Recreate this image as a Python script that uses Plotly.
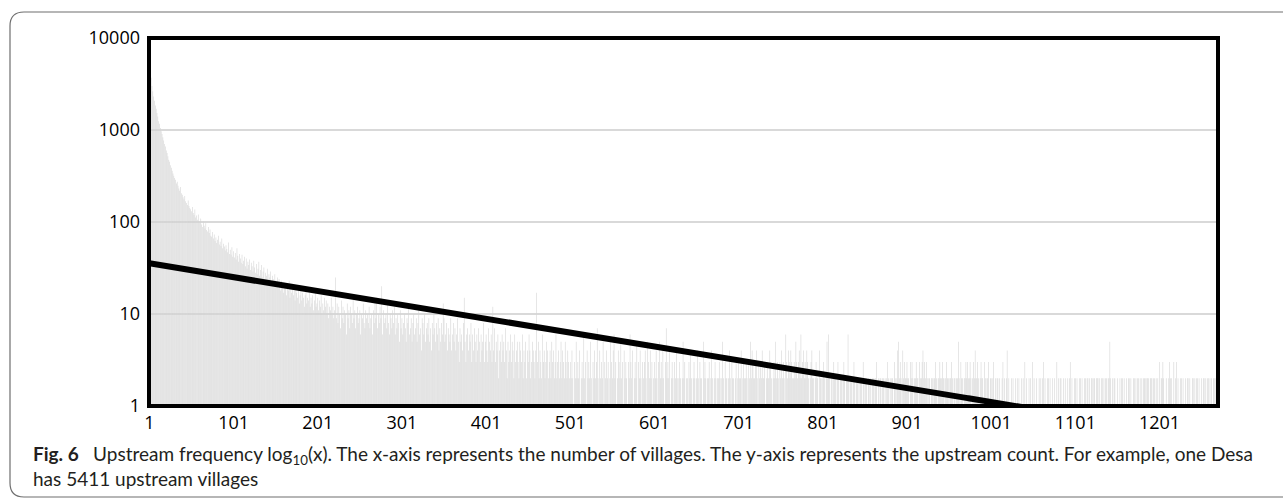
import numpy as np
import plotly.graph_objects as go

# Upstream counts per village rank, read left to right (category 1 .. 1270)
counts_head = [
    5411, 4380, 3705, 3012, 2644, 2318, 2075, 1843, 1702, 1530,
    1398, 1241, 1167, 1052, 968, 903, 832, 771, 705, 662,
    598, 561, 517, 476, 452, 413, 388, 361, 337, 318,
    301, 287, 262, 274, 248, 231, 219, 240, 205, 198,
    186, 177, 192, 168, 161, 153, 171, 149, 142, 138,
    131, 146, 125, 119, 137, 112, 118, 106, 121, 101,
    98, 109, 94, 88, 102, 91, 85, 97, 82, 79,
    88, 76, 83, 71, 69, 78, 66, 73, 62, 68,
    59, 64, 71, 57, 61, 55, 66, 52, 58, 54,
    49, 56, 51, 47, 60, 45, 50, 44, 53, 42,
]

counts_mid = [
    48, 41, 46, 39, 52, 43, 37, 45, 40, 36,
    44, 35, 38, 42, 33, 40, 31, 37, 34, 39,
    30, 36, 33, 29, 38, 32, 28, 35, 27, 31,
    37, 26, 30, 34, 25, 29, 32, 24, 28, 26,
    31, 23, 27, 25, 29, 22, 26, 24, 20, 27,
    23, 21, 25, 19, 24, 22, 18, 23, 20, 17,
    22, 19, 21, 16, 20, 18, 23, 15, 19, 17,
    21, 16, 18, 14, 19, 17, 15, 20, 13, 16,
    18, 14, 17, 15, 12, 16, 19, 13, 15, 14,
    17, 12, 15, 13, 16, 11, 14, 18, 12, 13,
    15, 11, 14, 12, 16, 10, 13, 11, 15, 12,
    14, 10, 13, 9, 12, 11, 15, 10, 12, 9,
    11, 25, 9, 13, 8, 12, 10, 7, 14, 9,
    12, 8, 11, 10, 6, 13, 9, 11, 7, 12,
    10, 8, 15, 9, 11, 7, 10, 12, 8, 9,
    11, 6, 10, 9, 13, 8, 7, 11, 9, 10,
    8, 12, 7, 9, 10, 6, 11, 8, 14, 9,
    15, 7, 10, 8, 12, 9, 20, 6, 11, 8,
    9, 10, 7, 13, 8, 6, 10, 9, 7, 11,
    8, 12, 6, 9, 7, 10, 8, 5, 11, 7,
    9, 6, 8, 10, 7, 5, 9, 8, 12, 6,
    7, 9, 5, 8, 10, 6, 7, 9, 5, 8,
    11, 6, 7, 4, 9, 8, 6, 10, 5, 7,
    8, 6, 9, 5, 7, 4, 8, 6, 10, 7,
    5, 8, 6, 9, 4, 7, 5, 8, 6, 13,
    9, 5, 6, 8, 4, 7, 6, 5, 9, 4,
    6, 8, 5, 7, 4, 6, 9, 5, 3, 7,
    5, 6, 4, 8, 15, 5, 3, 6, 7, 4,
    6, 5, 8, 3, 6, 4, 7, 5, 3, 6,
    4, 7, 5, 3, 6, 4, 5, 8, 3, 5,
    6, 4, 3, 7, 5, 4, 6, 3, 12, 4,
    7, 3, 5, 4, 6, 2, 4, 5, 3, 6,
    4, 5, 3, 7, 4, 2, 5, 3, 4, 6,
    3, 5, 4, 2, 6, 3, 4, 5, 3, 2,
    5, 4, 3, 6, 2, 4, 3, 5, 2, 4,
    3, 6, 4, 2, 3, 5, 4, 3, 2, 4,
    17, 3, 5, 2, 4, 3, 2, 6, 3, 4,
    2, 3, 5, 4, 2, 3, 4, 2, 5, 3,
    4, 2, 3, 6, 2, 3, 4, 2, 3, 5,
    2, 4, 3, 2, 5, 3, 2, 4, 3, 2,
]

counts_low = [
    3, 2, 4, 2, 1, 3, 2, 5, 2, 3,
    2, 4, 1, 2, 3, 2, 6, 2, 3, 1,
    4, 2, 3, 2, 5, 2, 1, 3, 2, 4,
    2, 3, 7, 2, 1, 4, 2, 3, 2, 5,
    1, 3, 2, 4, 2, 3, 1, 2, 5, 3,
    2, 4, 6, 2, 3, 1, 2, 4, 3, 2,
    5, 2, 3, 1, 4, 2, 3, 2, 1, 3,
    2, 6, 3, 2, 4, 1, 2, 3, 2, 5,
    1, 3, 2, 4, 2, 1, 3, 2, 3, 4,
    2, 1, 5, 3, 2, 4, 2, 3, 1, 2,
    3, 2, 4, 2, 1, 3, 5, 2, 3, 2,
    4, 2, 1, 3, 7, 2, 3, 2, 4, 1,
    2, 3, 2, 1, 3, 2, 4, 2, 1, 2,
    3, 2, 1, 2, 5, 2, 3, 1, 2, 2,
    1, 3, 2, 4, 2, 1, 2, 3, 2, 1,
    2, 4, 2, 1, 3, 2, 2, 1, 5, 2,
    3, 2, 1, 2, 2, 3, 1, 2, 4, 2,
    1, 2, 3, 2, 1, 2, 2, 3, 2, 1,
    2, 5, 2, 1, 3, 2, 2, 1, 2, 4,
    2, 1, 3, 2, 2, 1, 2, 3, 1, 2,
    3, 2, 2, 4, 1, 2, 3, 2, 2, 3,
    2, 1, 3, 2, 5, 2, 4, 3, 2, 2,
    3, 4, 2, 1, 3, 2, 3, 2, 4, 2,
    2, 3, 1, 2, 3, 2, 2, 4, 3, 2,
    1, 2, 3, 2, 5, 2, 3, 2, 1, 3,
    2, 4, 2, 3, 2, 1, 6, 3, 2, 4,
    3, 2, 4, 3, 2, 2, 3, 2, 5, 3,
    2, 3, 4, 2, 6, 2, 3, 4, 2, 3,
    2, 4, 3, 2, 1, 2, 3, 4, 2, 2,
    1, 2, 3, 2, 2, 1, 4, 2, 2, 1,
    2, 3, 2, 1, 2, 5, 2, 6, 2, 1,
    2, 2, 1, 3, 2, 2, 1, 2, 3, 2,
    1, 2, 2, 1, 2, 3, 2, 1, 2, 2,
    6, 2, 1, 2, 2, 1, 2, 3, 2, 1,
    2, 2, 1, 2, 1, 2, 2, 1, 3, 2,
    1, 2, 2, 1, 2, 2, 1, 2, 1, 2,
    2, 1, 2, 2, 3, 1, 2, 1, 2, 2,
    1, 2, 2, 1, 2, 1, 2, 3, 2, 1,
    2, 1, 2, 2, 1, 3, 2, 1, 2, 4,
    5, 2, 3, 2, 1, 4, 2, 3, 2, 2,
]

counts_tail = [
    3, 2, 2, 1, 3, 2, 3, 2, 1, 2,
    2, 3, 2, 2, 1, 3, 2, 2, 3, 4,
    2, 3, 2, 3, 2, 1, 2, 2, 1, 2,
    2, 1, 2, 2, 3, 2, 1, 2, 2, 3,
    2, 2, 3, 2, 2, 1, 2, 3, 2, 2,
    1, 2, 2, 3, 2, 1, 2, 2, 1, 2,
    2, 5, 2, 1, 3, 2, 2, 1, 2, 2,
    3, 2, 3, 2, 2, 3, 2, 1, 2, 3,
    2, 4, 2, 2, 3, 2, 1, 2, 3, 2,
    2, 1, 3, 2, 1, 2, 2, 3, 1, 2,
    2, 1, 2, 3, 1, 2, 1, 2, 2, 1,
    2, 1, 1, 2, 3, 1, 2, 1, 2, 4,
    1, 2, 1, 1, 2, 1, 2, 1, 1, 2,
    1, 2, 1, 2, 1, 1, 2, 1, 2, 1,
    3, 1, 2, 1, 1, 2, 1, 2, 1, 3,
    1, 2, 1, 1, 2, 1, 1, 2, 1, 2,
    1, 2, 3, 1, 2, 1, 1, 2, 2, 1,
    2, 1, 1, 2, 1, 2, 1, 1, 3, 1,
    2, 1, 2, 2, 1, 1, 2, 1, 2, 1,
    1, 2, 1, 2, 3, 1, 2, 1, 1, 2,
    2, 1, 2, 1, 1, 2, 2, 1, 2, 1,
    1, 2, 2, 1, 2, 2, 1, 2, 1, 2,
    2, 1, 2, 2, 1, 2, 2, 2, 1, 2,
    1, 2, 2, 1, 2, 1, 2, 2, 1, 2,
    2, 5, 2, 1, 2, 1, 2, 2, 1, 1,
    2, 1, 1, 2, 1, 2, 2, 1, 2, 1,
    1, 2, 1, 2, 2, 1, 2, 1, 1, 2,
    2, 1, 2, 1, 2, 2, 1, 2, 1, 2,
    1, 2, 2, 2, 1, 2, 2, 2, 1, 2,
    2, 2, 1, 2, 2, 1, 2, 1, 2, 1,
    3, 1, 2, 2, 3, 2, 1, 1, 2, 1,
    1, 2, 3, 2, 2, 1, 1, 3, 1, 2,
    3, 1, 2, 1, 1, 2, 2, 1, 2, 1,
    1, 2, 1, 2, 2, 1, 2, 1, 1, 2,
    2, 1, 2, 1, 2, 2, 1, 2, 1, 1,
    2, 1, 2, 2, 1, 2, 1, 2, 2, 1,
    2, 1, 2, 1, 2, 2, 1, 2, 2, 2,
]

counts = counts_head + counts_mid + counts_low + counts_tail
villages = list(range(1, len(counts) + 1))

# Exponential trendline y = a * exp(b * x)
trend_a = 35.72
trend_b = -0.003472

x_tick_values = [1, 101, 201, 301, 401, 501, 601, 701, 801, 901, 1001, 1101, 1201]
x_tick_labels = [str(v) for v in x_tick_values]
y_tick_values = [1, 10, 100, 1000, 10000]
y_tick_labels = ["1", "10", "100", "1000", "10000"]

caption_line1 = ("<b>Fig. 6</b>\u2002 Upstream frequency log<sub>10</sub>(x). The x-axis represents "
                 "the number of villages. The y-axis represents the upstream count. "
                 "For example, one Desa")
caption_line2 = "has 5411 upstream villages"

W, H = 1287, 504
ML, MR, MT, MB = 149, 69, 38, 98
PW, PH = W - ML - MR, H - MT - MB


def px(x):
    return (x - ML) / PW


def py(y):
    return (H - MB - y) / PH


trend_x = np.array(villages, dtype=float)
trend_y = trend_a * np.exp(trend_b * trend_x)

fig = go.Figure()
# a translucent rgba fill keeps the sub-pixel bars at their true width (thin streaks)
fig.add_trace(go.Bar(
    x=villages, y=counts,
    marker=dict(color="rgba(212,212,212,0.97)", line=dict(width=0)),
    hoverinfo="x+y",
))
fig.add_trace(go.Scatter(
    x=trend_x, y=trend_y, mode="lines",
    line=dict(color="#000000", width=6),
    hoverinfo="skip",
))

tick_font = dict(family="Open Sans, sans-serif", size=18, color="#000000")

fig.update_xaxes(
    range=[0.5, len(counts) + 0.5],
    tickmode="array", tickvals=x_tick_values, ticktext=x_tick_labels,
    showgrid=False, zeroline=False, showline=False, ticks="",
    tickfont=tick_font, ticklabelstandoff=4,
)
fig.update_yaxes(
    type="log", range=[0, 4],
    tickmode="array", tickvals=y_tick_values, ticktext=y_tick_labels,
    showgrid=True, gridcolor="#d9d9d9", gridwidth=1.5,
    zeroline=False, showline=False, ticks="",
    tickfont=tick_font, ticklabelstandoff=8,
)

# rounded caption frame around the whole figure
bx0, by0, bx1, by1, r = 10, 12, 1283, 497, 14
frame_path = (
    f"M {px(bx0 + r)},{py(by0)} L {px(bx1)},{py(by0)} "
    f"M {px(bx0 + r)},{py(by1)} L {px(bx1)},{py(by1)} "
    f"M {px(bx0 + r)},{py(by0)} Q {px(bx0)},{py(by0)} {px(bx0)},{py(by0 + r)} "
    f"L {px(bx0)},{py(by1 - r)} Q {px(bx0)},{py(by1)} {px(bx0 + r)},{py(by1)}"
)

caption_font = dict(family="Lato, sans-serif", size=19, color="#231f20")

fig.update_layout(
    width=W, height=H,
    margin=dict(l=ML, r=MR, t=MT, b=MB),
    paper_bgcolor="#ffffff", plot_bgcolor="#ffffff",
    bargap=0.3, showlegend=False,
    shapes=[
        dict(type="path", path=frame_path, xref="paper", yref="paper",
             line=dict(color="#6e6e6e", width=1.2), layer="below"),
        dict(type="rect", xref="paper", yref="paper", x0=0, x1=1, y0=0, y1=1,
             line=dict(color="#000000", width=4), layer="above"),
    ],
    annotations=[
        dict(text=caption_line1, xref="paper", yref="paper", x=px(31), y=py(455),
             xanchor="left", yanchor="middle", showarrow=False, align="left",
             font=caption_font),
        dict(text=caption_line2, xref="paper", yref="paper", x=px(31), y=py(478),
             xanchor="left", yanchor="middle", showarrow=False, align="left",
             font=caption_font),
    ],
)

fig.write_html("out.html")
